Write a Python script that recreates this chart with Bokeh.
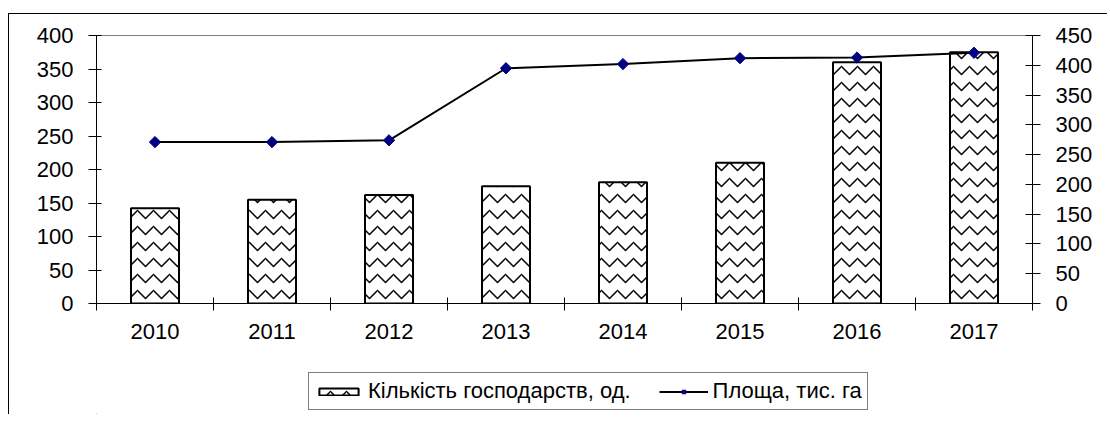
import math
from bokeh.plotting import figure
from bokeh.layouts import column
from bokeh.models import (Range1d, LinearAxis, FixedTicker, Legend, LegendItem)
from bokeh.embed import file_html
from bokeh.resources import INLINE

years = ["2010", "2011", "2012", "2013", "2014", "2015", "2016", "2017"]
farms = [142, 155, 162, 175, 181, 210, 360, 375]      # Кількість господарств, од.
area = [271, 271, 274, 395, 402, 412, 413, 421]       # Площа, тис. га
left_ticks = [0, 50, 100, 150, 200, 250, 300, 350, 400]
right_ticks = [0, 50, 100, 150, 200, 250, 300, 350, 400, 450]
series_names = ["Кількість господарств, од.", "Площа, тис. га"]

FONT = "Liberation Sans"
FS = "22px"

xc = [i + 0.5 for i in range(len(years))]

BAR_STYLE = dict(fill_color="white", line_color="black", line_width=2,
                 hatch_pattern="horizontal_wave", hatch_color="black",
                 hatch_scale=16, hatch_weight=1.5)
LINE_STYLE = dict(line_color="black", line_width=2)
MARK_STYLE = dict(marker="square", angle=math.pi / 4, size=8,
                  fill_color="#000080", line_color="#000080")

p = figure(width=1098, height=340, output_backend="svg", toolbar_location=None,
           x_range=Range1d(0, len(years)), y_range=Range1d(0, 400),
           min_border_left=87, min_border_top=21, min_border_right=75, min_border_bottom=51)
p.extra_y_ranges = {"area": Range1d(0, 450)}
p.grid.visible = False
p.outline_line_color = "#808080"
p.outline_line_width = 1
p.background_fill_color = "white"
p.border_fill_color = "white"

p.vbar(x=xc, top=farms, width=0.41, **BAR_STYLE)
p.line(x=xc, y=area, y_range_name="area", **LINE_STYLE)
p.scatter(x=xc, y=area, y_range_name="area", **MARK_STYLE)

# x axis: labels at centers, ticks at boundaries (minor)
xa = p.xaxis[0]
xa.ticker = FixedTicker(ticks=xc, minor_ticks=list(range(len(years) + 1)))
xa.major_label_overrides = {c: y for c, y in zip(xc, years)}
xa.major_tick_in = 0
xa.major_tick_out = 0
xa.minor_tick_in = 6
xa.minor_tick_out = 7
xa.minor_tick_line_color = "black"
xa.major_label_standoff = 13
xa.axis_line_color = "black"
xa.major_label_text_font = FONT
xa.major_label_text_font_size = FS
xa.major_label_text_color = "black"

ya = p.yaxis[0]
ya.ticker = FixedTicker(ticks=left_ticks)
ya.major_tick_in = 5
ya.major_tick_out = 8
ya.minor_tick_line_color = None
ya.major_label_standoff = 15
ya.axis_line_color = "black"
ya.major_tick_line_color = "black"
ya.major_label_text_font = FONT
ya.major_label_text_font_size = FS
ya.major_label_text_color = "black"

ra = LinearAxis(y_range_name="area", ticker=FixedTicker(ticks=right_ticks))
ra.major_tick_in = 7
ra.major_tick_out = 8
ra.minor_tick_line_color = None
ra.major_label_standoff = 15
ra.axis_line_color = "black"
ra.major_tick_line_color = "black"
ra.major_label_text_font = FONT
ra.major_label_text_font_size = FS
ra.major_label_text_color = "black"
p.add_layout(ra, "right")

# legend strip (separate figure)
q = figure(width=1098, height=60, output_backend="svg", toolbar_location=None,
           x_range=Range1d(0, 1), y_range=Range1d(0, 1),
           x_axis_location=None, y_axis_location=None,
           min_border=0)
q.grid.visible = False
q.outline_line_color = None
q.background_fill_color = "white"
q.border_fill_color = "white"
# off-range proxies so the legend can show the same glyph styles
rb = q.vbar(x=[-50], top=[-50], bottom=[-60], width=0.4, **BAR_STYLE)
rl = q.line(x=[-50, -49], y=[-50, -50], **LINE_STYLE)
rm = q.scatter(x=[-50], y=[-50], **MARK_STYLE)

legend = Legend(items=[LegendItem(label=series_names[0], renderers=[rb]),
                       LegendItem(label=series_names[1], renderers=[rl, rm])],
                orientation="horizontal", location=(212, 4),
                border_line_color="black", border_line_width=1,
                padding=5, spacing=28, label_standoff=5, glyph_width=49, glyph_height=9,
                margin=0, label_text_font=FONT, label_text_font_size="22px",
                label_text_color="black", background_fill_alpha=1)
q.add_layout(legend, "center")

layout = column(p, q, spacing=0)
layout.margin = (13, 0, 0, 8)
layout.styles = {"border-left": "1px solid #000", "border-top": "1px solid #000"}

open("out.html", "w").write(file_html(layout, INLINE))
